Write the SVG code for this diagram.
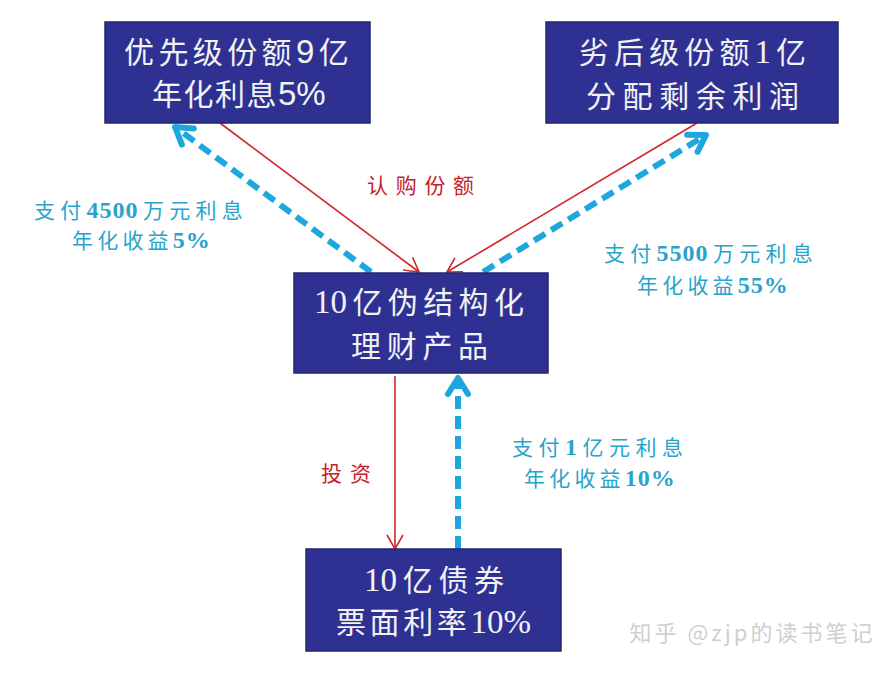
<svg xmlns="http://www.w3.org/2000/svg" width="895" height="673" viewBox="0 0 895 673">
<style>
.box{fill:#2e3192;stroke:#23266e;stroke-width:1.5}
.bt{font-family:"Liberation Serif","Noto Sans CJK SC",serif;font-size:30px;fill:#f2f2f2}
.bt tspan.d{font-size:33px}
.bt tspan.s{font-family:"Liberation Sans","Noto Sans CJK SC",sans-serif}
.rl{font-family:"Liberation Serif","Noto Sans CJK SC",serif;font-size:21px;fill:#c8202a}
.cl{font-family:"Liberation Serif","Noto Sans CJK SC",serif;font-size:21px;fill:#29a3cc}
.cl tspan.d{font-weight:bold;font-size:24px}
.wm{font-family:"Noto Sans CJK SC","Noto Sans",sans-serif;font-size:22px;fill:#cfcfcf;text-anchor:middle}
.red{stroke:#d0252b;stroke-width:1.6;fill:none}
.blue{stroke:#1ea7de;stroke-width:6;fill:none;stroke-dasharray:13 7}
</style>
<defs>
<marker id="ra" markerUnits="userSpaceOnUse" markerWidth="30" markerHeight="30" viewBox="-20 -15 30 30" refX="0" refY="0" orient="auto" overflow="visible">
<path d="M-14,-8 L0,0 L-14,8" fill="none" stroke="#d0252b" stroke-width="1.6"/>
</marker>
<marker id="ba" markerUnits="userSpaceOnUse" markerWidth="40" markerHeight="40" viewBox="-25 -20 40 40" refX="0" refY="0" orient="auto" overflow="visible">
<path d="M-16,-10 L0,0 L-16,10" fill="none" stroke="#1ea7de" stroke-width="6" stroke-linecap="round" stroke-linejoin="round" stroke-dasharray="none"/>
</marker>
</defs>
<rect width="895" height="673" fill="#ffffff"/>

<g id="connectors">
<line class="red" x1="220" y1="123" x2="419" y2="272" marker-end="url(#ra)"/>
<line class="red" x1="697" y1="123" x2="447" y2="272" marker-end="url(#ra)"/>
<line class="red" x1="395" y1="376" x2="395" y2="549" marker-end="url(#ra)"/>
<line class="blue" x1="371" y1="272" x2="175" y2="127" marker-end="url(#ba)"/>
<line class="blue" x1="483" y1="272" x2="706" y2="135" marker-end="url(#ba)"/>
<line class="blue" x1="458" y1="549" x2="458" y2="378" marker-end="url(#ba)"/>
</g>

<g id="senior">
<rect class="box" x="105" y="22" width="265" height="101"/>
<text class="bt" x="124" y="63" style="letter-spacing:4.4px">优先级份额<tspan class="d s">9</tspan>亿</text>
<text class="bt" x="152" y="105" style="letter-spacing:1.5px">年化利息<tspan class="d s" style="letter-spacing:0">5%</tspan></text>
</g>

<g id="junior">
<rect class="box" x="546" y="22" width="292" height="101"/>
<text class="bt" x="579" y="63" style="letter-spacing:5.1px">劣后级份额<tspan class="d">1</tspan>亿</text>
<text class="bt" x="586" y="107" style="letter-spacing:6.6px">分配剩余利润</text>
</g>

<g id="product">
<rect class="box" x="294" y="273" width="254" height="100"/>
<text class="bt" x="314" y="313" style="letter-spacing:5.4px"><tspan class="d" style="letter-spacing:0">1</tspan><tspan class="d">0</tspan>亿伪结构化</text>
<text class="bt" x="351" y="357" style="letter-spacing:5.7px">理财产品</text>
</g>

<g id="bond">
<rect class="box" x="306" y="549" width="255" height="102"/>
<text class="bt" x="364" y="591" style="letter-spacing:5.7px"><tspan class="d" style="letter-spacing:0">1</tspan><tspan class="d">0</tspan>亿债券</text>
<text class="bt" x="336" y="633" style="letter-spacing:3.6px">票面利率<tspan class="d" style="letter-spacing:0">10%</tspan></text>
</g>

<g id="labels">
<text class="rl" x="367" y="193" style="letter-spacing:7.7px">认购份额</text>
<text class="rl" x="321" y="481" style="letter-spacing:8px">投资</text>
<text class="cl" x="34" y="218" style="letter-spacing:5.3px">支付<tspan class="d" style="letter-spacing:1px">450</tspan><tspan class="d">0</tspan>万元利息</text>
<text class="cl" x="72" y="248" style="letter-spacing:4.2px">年化收益<tspan class="d" style="letter-spacing:1px">5%</tspan></text>
<text class="cl" x="604" y="261" style="letter-spacing:5.3px">支付<tspan class="d" style="letter-spacing:1px">550</tspan><tspan class="d">0</tspan>万元利息</text>
<text class="cl" x="637" y="293" style="letter-spacing:4.2px">年化收益<tspan class="d" style="letter-spacing:1px">55%</tspan></text>
<text class="cl" x="512" y="455" style="letter-spacing:5.5px">支付<tspan class="d">1</tspan>亿元利息</text>
<text class="cl" x="524" y="486" style="letter-spacing:4.2px">年化收益<tspan class="d" style="letter-spacing:1px">10%</tspan></text>
</g>

<g id="watermark">
<text class="wm" x="751" y="641" textLength="243" lengthAdjust="spacing">知乎 @zjp的读书笔记</text>
</g>
</svg>
